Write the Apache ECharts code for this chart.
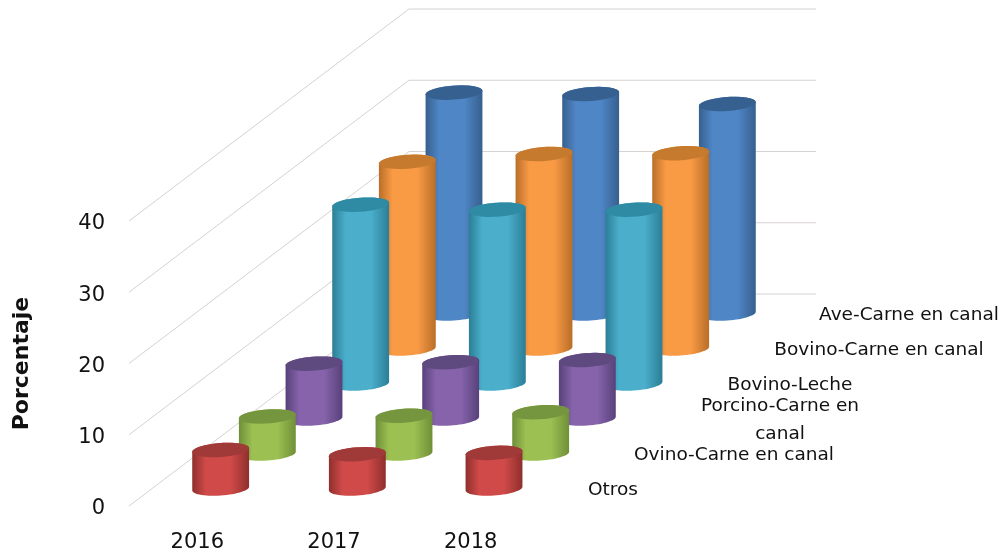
<!DOCTYPE html>
<html>
<head>
<meta charset="utf-8">
<style>html,body{margin:0;padding:0;background:#fff}#c{width:1003px;height:555px;filter:blur(0.5px)}</style>
<script src="https://cdn.jsdelivr.net/npm/echarts@6/dist/echarts.min.js"></script>
</head>
<body>
<div id="c"></div>
<script>
const years = ['2016', '2017', '2018'];
const otros = [5.4, 4.8, 5.0];
const ovino = [5.2, 5.3, 5.8];
const porcino = [7.7, 7.9, 8.2];
const bovinoLeche = [25.1, 24.4, 24.4];
const bovinoCarne = [26.2, 27.3, 27.4];
const aveCarne = [31.0, 30.8, 29.4];
const yTicks = [0, 10, 20, 30, 40];
const seriesNames = ['Otros', 'Ovino-Carne en canal', 'Porcino-Carne en\n\ncanal', 'Bovino-Leche', 'Bovino-Carne en canal', 'Ave-Carne en canal'];
const seriesValues = [otros, ovino, porcino, bovinoLeche, bovinoCarne, aveCarne];

const FONT = '"DejaVu Sans"';
const DEPTH_X = 280, DEPTH_Y = -210, WALL_Y = -212, N = seriesValues.length;
const RX = 28.5, RY = 7, TILT = -4 * Math.PI / 180;
const palette = [
  { edge: '#8f2f2d', mid: '#cf4a48', top: '#a03a38' },
  { edge: '#6f8f38', mid: '#9cc052', top: '#76953f' },
  { edge: '#58417a', mid: '#8663ab', top: '#5f4a80' },
  { edge: '#2b7e96', mid: '#4bafcc', top: '#2f8aa3' },
  { edge: '#b96e28', mid: '#f99a45', top: '#c67a2e' },
  { edge: '#375f8e', mid: '#4f86c6', top: '#36608f' }
];
const labelPos = [[613, 490], [734, 455], [780, 420], [790, 385], [879, 350], [909, 315]];

function ell(cx, cy, t) {
  const c = Math.cos(t), s = Math.sin(t), ct = Math.cos(TILT), st = Math.sin(TILT);
  return [cx + RX * c * ct - RY * s * st, cy + RX * c * st + RY * s * ct];
}
function arc(cx, cy, a, b) {
  const pts = [];
  for (let i = 0; i <= 30; i++) pts.push(ell(cx, cy, a + (b - a) * i / 30));
  return pts;
}
const tR = Math.atan(-RY * Math.tan(TILT) / RX);

function cylinder(depth) {
  const dx = DEPTH_X * (depth + 0.5) / N, dy = DEPTH_Y * (depth + 0.5) / N, col = palette[depth];
  return function (params, api) {
    const cat = api.value(0), val = api.value(1);
    const b = api.coord([cat, 0]), t = api.coord([cat, val]);
    const cx = b[0] + dx, by = b[1] + dy, ty = t[1] + dy;
    const body = arc(cx, by, tR, tR + Math.PI).concat(arc(cx, ty, tR + Math.PI, tR + 2 * Math.PI));
    const grad = { type: 'linear', x: 0, y: 0, x2: 1, y2: 0, colorStops: [
      { offset: 0, color: col.edge }, { offset: 0.24, color: col.mid },
      { offset: 0.68, color: col.mid }, { offset: 1, color: col.edge }
    ] };
    return { type: 'group', children: [
      { type: 'polygon', shape: { points: body }, style: { fill: grad } },
      { type: 'polygon', shape: { points: arc(cx, ty, 0, 2 * Math.PI) }, style: { fill: col.top } }
    ] };
  };
}
function wallLine(params, api) {
  const v = api.value(0), p = api.coord([0, v]), cs = params.coordSys;
  const left = [cs.x, p[1]], back = [cs.x + DEPTH_X, p[1] + WALL_Y], right = [cs.x + cs.width + DEPTH_X - 3, p[1] + WALL_Y];
  return { type: 'polyline', shape: { points: [left, back, right] }, style: { fill: 'none', stroke: '#d6d2d0', lineWidth: 1 } };
}

const series = [{
  type: 'custom', name: 'Pared', silent: true, renderItem: wallLine, clip: false,
  data: yTicks.map(v => [v]), encode: { y: 0 }, z: 1
}];
for (let d = N - 1; d >= 0; d--) {
  series.push({
    type: 'custom', name: seriesNames[d].replace('\n\n', ' '), renderItem: cylinder(d), clip: false, z: 2 + (N - d),
    data: seriesValues[d].map((v, i) => [i, v]), encode: { x: 0, y: 1 }
  });
}
const chart = echarts.init(document.getElementById('c'), null, { renderer: 'canvas' });
chart.setOption({
  animation: false,
  backgroundColor: '#fff',
  grid: { left: 129, top: 221, width: 410, height: 285 },
  xAxis: { type: 'category', data: years, axisLine: { show: false }, axisTick: { show: false },
    axisLabel: { fontFamily: FONT, fontSize: 21, color: '#111', margin: 26 } },
  yAxis: { type: 'value', min: 0, max: 40, interval: 10, axisLine: { show: false }, axisTick: { show: false }, splitLine: { show: false },
    axisLabel: { margin: 24, formatter: '{t|{value}}',
      rich: { t: { fontFamily: FONT, fontSize: 21, color: '#111', padding: [6, 0, 0, 0] } } },
    name: 'Porcentaje', nameLocation: 'middle', nameRotate: 90, nameGap: 96,
    nameTextStyle: { fontFamily: FONT, fontSize: 22, fontWeight: 'bold', color: '#111' } },
  series: series,
  graphic: seriesNames.map((s, i) => ({
    type: 'text', x: labelPos[i][0], y: labelPos[i][1], silent: true,
    style: { text: s, fontFamily: FONT, fontSize: 18.5, fill: '#111', align: 'center', verticalAlign: 'middle', lineHeight: 14 }
  }))
});
</script>
</body>
</html>
